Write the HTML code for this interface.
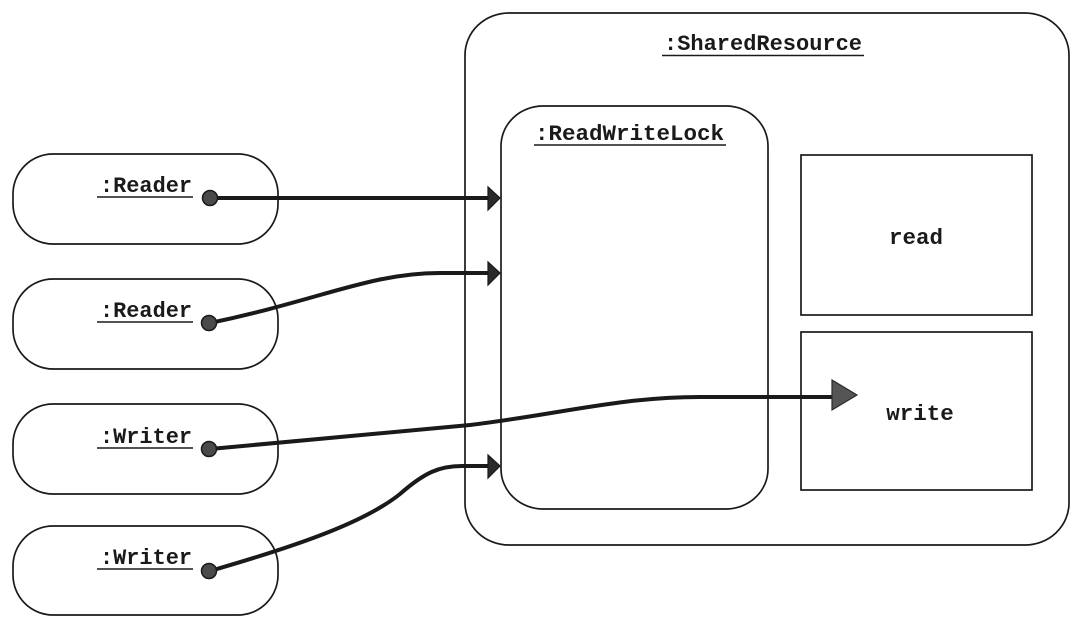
<!DOCTYPE html>
<html>
<head>
<meta charset="utf-8">
<style>
  html, body { margin: 0; padding: 0; background: #ffffff; }
  svg { display: block; }
  text { font-family: "Liberation Mono", "DejaVu Sans Mono", monospace; font-weight: bold; font-size: 22.5px; fill: #1a1a1a; }
</style>
</head>
<body>
<svg width="1080" height="625" viewBox="0 0 1080 625" xmlns="http://www.w3.org/2000/svg">
  <rect x="0" y="0" width="1080" height="625" fill="#ffffff"/>

  <!-- SharedResource outer -->
  <rect x="465" y="13" width="604" height="532" rx="44" ry="42" fill="none" stroke="#1a1a1a" stroke-width="1.7"/>
  <text x="664" y="50" textLength="198" lengthAdjust="spacingAndGlyphs">:SharedResource</text>
  <line x1="662" y1="55.5" x2="864" y2="55.5" stroke="#1a1a1a" stroke-width="1.6"/>

  <!-- ReadWriteLock -->
  <rect x="501" y="106" width="267" height="403" rx="42" ry="40" fill="none" stroke="#1a1a1a" stroke-width="1.7"/>
  <text x="535" y="140" textLength="189" lengthAdjust="spacingAndGlyphs">:ReadWriteLock</text>
  <line x1="534" y1="145" x2="726" y2="145" stroke="#1a1a1a" stroke-width="1.6"/>

  <!-- read / write boxes -->
  <rect x="801" y="155" width="231" height="160" fill="none" stroke="#1a1a1a" stroke-width="1.7"/>
  <text x="916" y="244" text-anchor="middle">read</text>
  <rect x="801" y="332" width="231" height="158" fill="none" stroke="#1a1a1a" stroke-width="1.7"/>
  <text x="920" y="420" text-anchor="middle">write</text>

  <!-- Reader / Writer boxes -->
  <rect x="13" y="154" width="265" height="90" rx="40" ry="40" fill="none" stroke="#1a1a1a" stroke-width="1.7"/>
  <text x="100" y="192" textLength="92" lengthAdjust="spacingAndGlyphs">:Reader</text>
  <line x1="97" y1="197" x2="193" y2="197" stroke="#1a1a1a" stroke-width="1.6"/>

  <rect x="13" y="279" width="265" height="90" rx="40" ry="40" fill="none" stroke="#1a1a1a" stroke-width="1.7"/>
  <text x="100" y="317" textLength="92" lengthAdjust="spacingAndGlyphs">:Reader</text>
  <line x1="97" y1="322" x2="193" y2="322" stroke="#1a1a1a" stroke-width="1.6"/>

  <rect x="13" y="404" width="265" height="90" rx="40" ry="40" fill="none" stroke="#1a1a1a" stroke-width="1.7"/>
  <text x="100" y="443" textLength="92" lengthAdjust="spacingAndGlyphs">:Writer</text>
  <line x1="97" y1="448" x2="193" y2="448" stroke="#1a1a1a" stroke-width="1.6"/>

  <rect x="13" y="526" width="265" height="89" rx="40" ry="40" fill="none" stroke="#1a1a1a" stroke-width="1.7"/>
  <text x="100" y="564" textLength="92" lengthAdjust="spacingAndGlyphs">:Writer</text>
  <line x1="97" y1="569" x2="193" y2="569" stroke="#1a1a1a" stroke-width="1.6"/>

  <!-- Connectors -->
  <g fill="none" stroke="#1a1a1a" stroke-width="4" stroke-linecap="round">
    <path d="M210,198 L490,198"/>
    <path d="M210,323 C 320,300 370,273 440,273 L490,273"/>
    <path d="M210,449 L470,425 C 560,414 620,397 700,397 L835,397"/>
    <path d="M210,571 C 300,545 365,522 400,494 C 425,472 440,466 462,466 L490,466"/>
  </g>

  <!-- Arrowheads -->
  <g fill="#2a2a2a" stroke="#1a1a1a" stroke-width="1.2" stroke-linejoin="miter">
    <polygon points="488,187 500,198 488,210"/>
    <polygon points="488,262 500,273 488,285"/>
    <polygon points="488,455 500,466 488,478"/>
  </g>
  <polygon points="832,380 857,395 832,410" fill="#555555" stroke="#2a2a2a" stroke-width="1.2"/>

  <!-- Dots -->
  <g fill="#4a4a4a" stroke="#1a1a1a" stroke-width="1.5">
    <circle cx="210" cy="198" r="7.5"/>
    <circle cx="209" cy="323" r="7.5"/>
    <circle cx="209" cy="449" r="7.5"/>
    <circle cx="209" cy="571" r="7.5"/>
  </g>
</svg>
</body>
</html>
